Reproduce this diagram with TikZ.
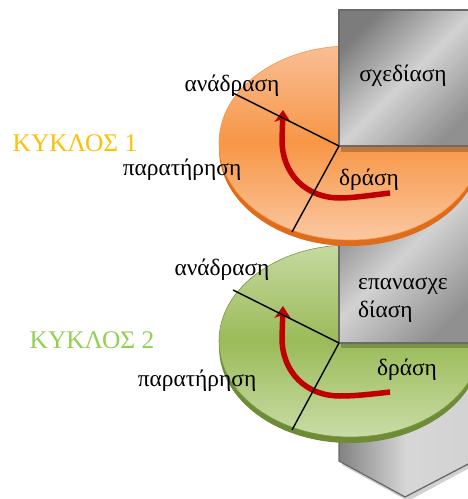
\documentclass[tikz,border=0pt]{standalone}
\usepackage{fontspec}
\setmainfont{Liberation Serif}
\usetikzlibrary{arrows.meta}

\definecolor{orTop}{HTML}{F9BE95}
\definecolor{orMid}{HTML}{F79646}
\definecolor{orBot}{HTML}{FBC8A2}
\definecolor{orRim}{HTML}{DE6C1A}
\definecolor{grTop}{HTML}{C6D9A0}
\definecolor{grMid}{HTML}{9BBB59}
\definecolor{grBot}{HTML}{C9DCA6}
\definecolor{grRim}{HTML}{6E8C36}
\definecolor{cycA}{HTML}{FFC000}
\definecolor{cycB}{HTML}{92D050}
\definecolor{arrowRed}{HTML}{C00000}
\definecolor{barDark}{HTML}{7C7C7C}
\definecolor{barLight}{HTML}{D2D2D2}
\definecolor{barEdge}{HTML}{6A6A6A}

\tikzset{
  lbl/.style={font=\fontsize{23.5}{27}\selectfont, inner sep=0pt},
  cyc/.style={font=\fontsize{25.5}{30}\selectfont, inner sep=0pt},
  sector/.style={black, line width=1.4bp},
  turn/.style={arrowRed, line width=5.5bp,
    -{Stealth[width=16bp,length=12bp,inset=3bp]}},
  greybox/.style={draw=barEdge, line width=1.3bp,
    left color=barDark, right color=barDark!85!white, middle color=barLight,
    shading angle=45},
  boxshadow/.style={fill=black, opacity=0.22},
}

\begin{document}
\begin{tikzpicture}[x=1bp,y=-1bp]
\useasboundingbox (0,0) rectangle (468,499);
\clip (0,0) rectangle (468,499);

% long grey bar ending in a downward point
\fill[gray!60, opacity=0.6] (342,14) -- (475,14) -- (475,465) -- (408,501) -- (342,465) -- cycle;
\draw[draw=barEdge, line width=1.3bp, left color=barDark!95, right color=barLight, middle color=barLight!90]
  (339,10) -- (474,10) -- (474,461) -- (405,497) -- (339,461) -- cycle;

% ---- second disc (green)
\fill[grRim] (350,347) ellipse [x radius=131, y radius=96];
\shade[top color=grTop, bottom color=grBot, middle color=grMid, draw=grMid!80!black, line width=0.6bp]
  (350,341) ellipse [x radius=131, y radius=96];
\draw[greybox] (339,160) rectangle (476,343);
\fill[boxshadow] (340.5,343.7) rectangle (476,348);

% ---- first disc (orange)
\fill[orRim] (350,149) ellipse [x radius=131, y radius=97];
\shade[top color=orTop, bottom color=orBot, middle color=orMid, draw=orMid, line width=0.6bp]
  (350,143) ellipse [x radius=131, y radius=97];
\draw[greybox] (339,10) rectangle (476,146);
\fill[boxshadow] (340.5,146.7) rectangle (476,152);

% ---- cycle 1: sectors and turning arrow
\coordinate (hubA) at (339,146);
\coordinate (rimA1) at (233,93);
\coordinate (rimA2) at (292,232);
\coordinate (startA) at (390,193);
\coordinate (tipA) at (283,110);
\draw[turn] (startA) .. controls (365,196) and (352,198) .. (340,198)
  .. controls (306,198) and (282,174) .. (282,140) -- (tipA);
\draw[sector] (hubA) -- (rimA1);
\draw[sector] (hubA) -- (rimA2);

% ---- cycle 2: sectors and turning arrow
\coordinate (hubB) at (339,343);
\coordinate (rimB1) at (233,290);
\coordinate (rimB2) at (292,430);
\coordinate (startB) at (390,392);
\coordinate (tipB) at (283,306);
\draw[turn] (startB) .. controls (365,395) and (352,396) .. (340,396)
  .. controls (306,396) and (282,372) .. (282,338) -- (tipB);
\draw[sector] (hubB) -- (rimB1);
\draw[sector] (hubB) -- (rimB2);

% ---- labels
\node[lbl] (fbA) at (232,86) {ανάδραση};
\node[lbl] (obA) at (182,170) {παρατήρηση};
\node[lbl] (plA) at (403,76) {σχεδίαση};
\node[lbl] (acA) at (369,180) {δράση};
\node[cyc, text=cycA] (cyA) at (75,143) {ΚΥΚΛΟΣ 1};

\node[lbl] (fbB) at (222,270) {ανάδραση};
\node[lbl] (obB) at (197,381) {παρατήρηση};
\node[lbl, align=left, anchor=west] (plB) at (358,300) {επανασχε\\[2bp]δίαση};
\node[lbl] (acB) at (407,370) {δράση};
\node[cyc, text=cycB] (cyB) at (92,340) {ΚΥΚΛΟΣ 2};
\end{tikzpicture}
\end{document}
